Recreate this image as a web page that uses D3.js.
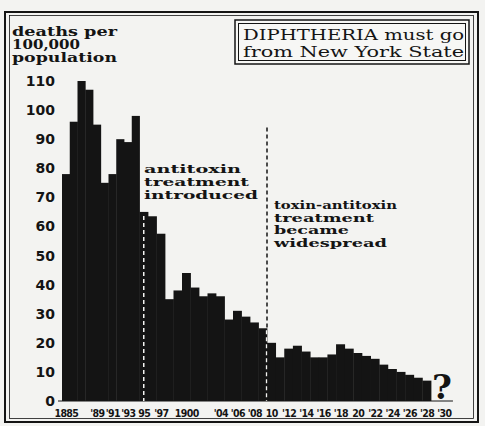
<!DOCTYPE html>
<html>
<head>
<meta charset="utf-8">
<script src="https://cdn.jsdelivr.net/npm/d3@7"></script>
<style>
  body { margin: 0; background: #f3f3f1; }
  svg { display: block; }
</style>
</head>
<body>
<svg width="485" height="426"></svg>
<script>
// deaths per 100,000 population, New York State
const years = d3.range(1885, 1929);
const deaths = [
  78, 96, 110, 107, 95, 75, 78, 90, 89, 98,       // 1885-1894
  65, 63.5, 57.5, 35, 38, 44, 39, 36, 37, 36,     // 1895-1904
  28, 31, 29, 27, 25,                             // 1905-1909
  20, 15, 18, 19, 17, 15, 15, 16, 19.5, 18,       // 1910-1919
  16.5, 15.5, 14.5, 12.5, 11, 10, 9, 8, 7         // 1920-1928
];
const yTicks = [0, 10, 20, 30, 40, 50, 60, 70, 80, 90, 100, 110];
const xTickYears = [1885, 1889, 1891, 1893, 1895, 1897, 1900, 1904, 1906, 1908, 1910,
                    1912, 1914, 1916, 1918, 1920, 1922, 1924, 1926, 1928, 1930];
const xTickLabels = ["1885", "'89", "'91", "'93", "95", "'97", "1900", "'04", "'06", "'08", "10",
                     "'12", "'14", "'16", "'18", "20", "'22", "'24", "'26", "'28", "'30"];
const notes = [
  {year: 1895, lines: ["antitoxin", "treatment", "introduced"]},
  {year: 1910, lines: ["toxin-antitoxin", "treatment", "became", "widespread"]}
];

const svg = d3.select('svg');
const ink = '#141414';
const paper = '#f3f3f1';

// hand drawn chart: the year columns are not quite even
const x = d3.scaleLinear()
  .domain([1885, 1895, 1910, 1929])
  .range([62, 139.5, 267, 431]);
const xMid = d3.scaleLinear()
  .domain(x.domain().map(d => d - 0.5))
  .range(x.range());
const y = d3.scaleLinear().domain([0, 110]).range([401, 81]);

// frame
svg.append('rect').attr('x', 5).attr('y', 12).attr('width', 473).attr('height', 410)
  .attr('fill', 'none').attr('stroke', ink).attr('stroke-width', 2);
svg.append('rect').attr('x', 9.5).attr('y', 15.5).attr('width', 464).attr('height', 403)
  .attr('fill', 'none').attr('stroke', ink).attr('stroke-width', 0.8);

// bars
svg.append('g').selectAll('rect')
  .data(years)
  .join('rect')
  .attr('x', d => x(d))
  .attr('width', d => x(d + 1) - x(d) + 0.4)
  .attr('y', (d, i) => y(deaths[i]))
  .attr('height', (d, i) => y(0) - y(deaths[i]))
  .attr('fill', ink);

// baseline
svg.append('line')
  .attr('x1', x(1885) - 4).attr('x2', xMid(1930) + 9)
  .attr('y1', y(0)).attr('y2', y(0))
  .attr('stroke', ink).attr('stroke-width', 1);

// y axis
const yAxis = svg.append('g')
  .attr('transform', 'translate(55,0)')
  .call(d3.axisLeft(y).tickValues(yTicks).tickSize(0).tickPadding(0));
yAxis.select('.domain').remove();
yAxis.selectAll('text')
  .attr('font-family', 'DejaVu Sans')
  .attr('font-weight', 'bold')
  .attr('font-size', 14)
  .attr('fill', ink);

// x axis
const xAxis = svg.append('g')
  .attr('transform', `translate(0,${y(0)})`)
  .call(d3.axisBottom(xMid).tickValues(xTickYears)
    .tickFormat((d, i) => xTickLabels[i]).tickSize(0).tickPadding(9));
xAxis.select('.domain').remove();
xAxis.selectAll('text')
  .attr('font-family', "'DejaVu Sans Condensed', 'DejaVu Sans'")
  .attr('font-stretch', 'condensed')
  .attr('font-weight', 'bold')
  .attr('font-size', 10.5)
  .attr('letter-spacing', -0.6)
  .attr('fill', ink);

// y title
const yTitle = [['deaths per', 36, 105], ['100,000', 49, 68], ['population', 62, 105]];
svg.append('g').selectAll('text')
  .data(yTitle)
  .join('text')
  .attr('x', 12)
  .attr('y', d => d[1])
  .attr('textLength', d => d[2])
  .attr('lengthAdjust', 'spacingAndGlyphs')
  .attr('font-family', 'DejaVu Serif')
  .attr('font-weight', 'bold')
  .attr('font-size', 12)
  .attr('fill', ink)
  .text(d => d[0]);

// title box
svg.append('rect').attr('x', 235).attr('y', 20).attr('width', 234).attr('height', 44)
  .attr('fill', '#f7f7f5').attr('stroke', ink).attr('stroke-width', 1.5);
svg.append('rect').attr('x', 238.5).attr('y', 23.5).attr('width', 227).attr('height', 37)
  .attr('fill', 'none').attr('stroke', ink).attr('stroke-width', 1);
svg.append('g').selectAll('text')
  .data([['DIPHTHERIA must go', 40], ['from New York State', 57]])
  .join('text')
  .attr('x', 243)
  .attr('y', d => d[1])
  .attr('textLength', 221)
  .attr('lengthAdjust', 'spacingAndGlyphs')
  .attr('font-family', 'DejaVu Serif')
  .attr('font-size', 14.5)
  .attr('fill', ink)
  .text(d => d[0]);

// dashed markers: dark above the bars, white inside them
const dash = '4,3';
const v1895 = deaths[years.indexOf(1895)];
svg.append('line')
  .attr('x1', xMid(1895)).attr('x2', xMid(1895))
  .attr('y1', y(v1895) + 4).attr('y2', y(0))
  .attr('stroke', paper).attr('stroke-width', 1.5).attr('stroke-dasharray', dash);
const v1909 = deaths[years.indexOf(1909)];
svg.append('line')
  .attr('x1', x(1910)).attr('x2', x(1910))
  .attr('y1', y(94)).attr('y2', y(v1909))
  .attr('stroke', ink).attr('stroke-width', 1.5).attr('stroke-dasharray', dash);
svg.append('line')
  .attr('x1', x(1910) - 0.5).attr('x2', x(1910) - 0.5)
  .attr('y1', y(v1909) + 2).attr('y2', y(0))
  .attr('stroke', paper).attr('stroke-width', 1.3).attr('stroke-dasharray', dash);

// annotations
const noteStyle = [
  {x: 144, y0: 173, step: 13, size: 11.5, widths: [97, 105, 114]},
  {x: 274, y0: 209, step: 12.5, size: 11, widths: [123, 100, 75, 113]}
];
notes.forEach((n, k) => {
  const s = noteStyle[k];
  svg.append('g').selectAll('text')
    .data(n.lines)
    .join('text')
    .attr('x', s.x)
    .attr('y', (d, i) => s.y0 + i * s.step)
    .attr('textLength', (d, i) => s.widths[i])
    .attr('lengthAdjust', 'spacingAndGlyphs')
    .attr('font-family', 'DejaVu Serif')
    .attr('font-weight', 'bold')
    .attr('font-size', s.size)
    .attr('fill', ink)
    .text(d => d);
});

// the open question for 1930
svg.append('text')
  .attr('x', xMid(1930) - 2)
  .attr('y', y(0) - 2)
  .attr('text-anchor', 'middle')
  .attr('font-family', 'DejaVu Serif')
  .attr('font-weight', 'bold')
  .attr('font-size', 34)
  .attr('fill', ink)
  .text('?');
</script>
</body>
</html>
